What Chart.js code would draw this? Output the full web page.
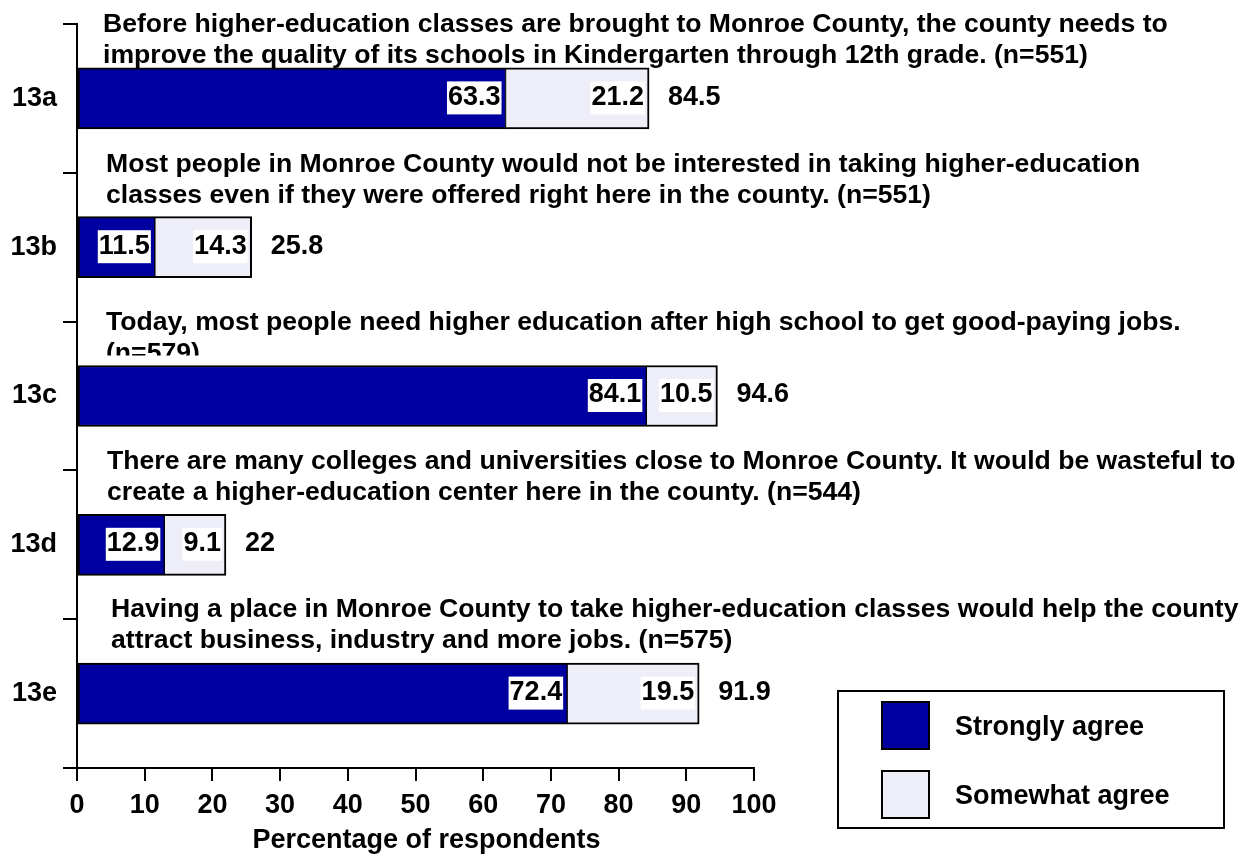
<!DOCTYPE html>
<html>
<head>
<meta charset="utf-8">
<title>Higher education in Monroe County</title>
<script src="https://cdn.jsdelivr.net/npm/chart.js@4/dist/chart.umd.min.js"></script>
<style>
  html, body { margin: 0; padding: 0; background: #fff; }
  canvas { display: block; }
</style>
</head>
<body>
<canvas id="agreeChart" width="1243" height="859"></canvas>
<script>
// survey items, top to bottom
const items = ["13a", "13b", "13c", "13d", "13e"];

const questions = [
  ["Before higher-education classes are brought to Monroe County, the county needs to",
   "improve the quality of its schools in Kindergarten through 12th grade. (n=551)"],
  ["Most people in Monroe County would not be interested in taking higher-education",
   "classes even if they were offered right here in the county. (n=551)"],
  ["Today, most people need higher education after high school to get good-paying jobs.",
   "(n=579)"],
  ["There are many colleges and universities close to Monroe County. It would be wasteful to",
   "create a higher-education center here in the county. (n=544)"],
  ["Having a place in Monroe County to take higher-education classes would help the county",
   "attract business, industry and more jobs. (n=575)"]
];

// percentages
const stronglyAgree = [63.3, 11.5, 84.1, 12.9, 72.4];
const somewhatAgree = [21.2, 14.3, 10.5, 9.1, 19.5];
const totalAgree = [84.5, 25.8, 94.6, 22, 91.9];

const xTitle = "Percentage of respondents";

const FONT = "'Liberation Sans', Arial, Helvetica, sans-serif";

// question text sits in the upper part of each band, bars drawn over it
const questionText = {
  id: "questionText",
  beforeDatasetsDraw(chart, args, opts) {
    const { ctx } = chart;
    const y = chart.scales.y;
    const band = y.getPixelForValue(1) - y.getPixelForValue(0);
    ctx.save();
    ctx.font = opts.font;
    ctx.fillStyle = "#000";
    ctx.textAlign = "left";
    ctx.textBaseline = "alphabetic";
    questions.forEach((lines, i) => {
      const top = y.getPixelForValue(i) - band / 2;
      const n = opts.nudge[i];
      ctx.save();
      if (n.clip) {
        ctx.beginPath();
        ctx.rect(0, 0, chart.width, top + n.clip);
        ctx.clip();
      }
      lines.forEach((line, k) => ctx.fillText(line, n.x, top + n.y + k * opts.lineGap));
      ctx.restore();
    });
    ctx.restore();
  }
};

// white boxed values at the end of each segment, plus the total outside
const valueLabels = {
  id: "valueLabels",
  afterDatasetsDraw(chart, args, opts) {
    const { ctx } = chart;
    ctx.save();
    ctx.font = opts.font;
    ctx.textBaseline = "middle";
    chart.data.datasets.forEach((ds, d) => {
      chart.getDatasetMeta(d).data.forEach((bar, i) => {
        const txt = String(ds.data[i]);
        const w = ctx.measureText(txt).width;
        const right = bar.x - 4;
        ctx.fillStyle = "#fff";
        ctx.fillRect(right - w - 2, bar.y - 17, w + 2, 33);
        ctx.fillStyle = "#000";
        ctx.textAlign = "right";
        ctx.fillText(txt, right - 1, bar.y - 1);
      });
    });
    const last = chart.getDatasetMeta(chart.data.datasets.length - 1).data;
    ctx.textAlign = "left";
    ctx.fillStyle = "#000";
    last.forEach((bar, i) => ctx.fillText(String(totalAgree[i]), bar.x + 19, bar.y - 1));
    ctx.restore();
  }
};

// x axis caption, a little right of the axis centre
const axisCaption = {
  id: "axisCaption",
  afterDraw(chart, args, opts) {
    const { ctx } = chart;
    const x = chart.scales.x;
    ctx.save();
    ctx.font = opts.font;
    ctx.fillStyle = "#000";
    ctx.textAlign = "center";
    ctx.textBaseline = "alphabetic";
    ctx.fillText(xTitle, (x.left + x.right) / 2 + opts.shift, x.top + opts.baseline);
    ctx.restore();
  }
};

// framed legend in the lower right
const boxLegend = {
  id: "boxLegend",
  afterDraw(chart, args, opts) {
    const { ctx } = chart;
    const b = opts.box;
    ctx.save();
    ctx.lineWidth = 2;
    ctx.strokeStyle = "#000";
    ctx.fillStyle = "#fff";
    ctx.fillRect(b.x, b.y, b.w, b.h);
    ctx.strokeRect(b.x, b.y, b.w, b.h);
    ctx.font = opts.font;
    ctx.textAlign = "left";
    ctx.textBaseline = "middle";
    chart.data.datasets.forEach((ds, i) => {
      const sx = b.x + opts.swatchLeft;
      const sy = b.y + opts.firstTop + i * opts.step;
      ctx.fillStyle = ds.backgroundColor;
      ctx.fillRect(sx, sy, opts.swatch, opts.swatch);
      ctx.strokeRect(sx, sy, opts.swatch, opts.swatch);
      ctx.fillStyle = "#000";
      ctx.fillText(ds.label, b.x + opts.textLeft, sy + opts.swatch / 2 + 2);
    });
    ctx.restore();
  }
};

const tickFont = { family: FONT, size: 27, weight: "bold" };

new Chart(document.getElementById("agreeChart"), {
  type: "bar",
  data: {
    labels: items,
    datasets: [
      {
        label: "Strongly agree",
        data: stronglyAgree,
        backgroundColor: "#0000A0",
        borderColor: "#000",
        borderWidth: { top: 2, bottom: 2, left: 2, right: 1 },
        borderSkipped: false,
        barThickness: 61
      },
      {
        label: "Somewhat agree",
        data: somewhatAgree,
        backgroundColor: "#EEEEF8",
        borderColor: "#000",
        borderWidth: { top: 2, bottom: 2, left: 1, right: 2 },
        borderSkipped: false,
        barThickness: 61
      }
    ]
  },
  options: {
    indexAxis: "y",
    responsive: false,
    animation: false,
    layout: { padding: { top: 24, right: 489, bottom: 0, left: 0 } },
    plugins: {
      legend: { display: false },
      tooltip: { enabled: false },
      questionText: {
        font: "bold 26.6px " + FONT,
        lineGap: 31,
        nudge: [
          { x: 103, y: 8 },
          { x: 106, y: -1 },
          { x: 106, y: 8, clip: 34 },
          { x: 107, y: -1 },
          { x: 111, y: -2 }
        ]
      },
      valueLabels: { font: "bold 27px " + FONT },
      axisCaption: { font: "bold 27px " + FONT, shift: 11, baseline: 80 },
      boxLegend: {
        font: "bold 27px " + FONT,
        box: { x: 838, y: 691, w: 386, h: 137 },
        swatchLeft: 44, firstTop: 11, step: 69, swatch: 47, textLeft: 117
      }
    },
    scales: {
      x: {
        stacked: true,
        min: 0,
        max: 100,
        ticks: { stepSize: 10, color: "#000", padding: 8, font: tickFont, maxRotation: 0 },
        grid: { drawOnChartArea: false, tickLength: 13, tickColor: "#000", lineWidth: 2 },
        border: { color: "#000", width: 2 },
        afterFit(scale) { scale.height = 91; }
      },
      y: {
        stacked: true,
        ticks: { color: "#000", padding: 6, font: tickFont },
        grid: { drawOnChartArea: false, offset: true, tickLength: 14, tickColor: "#000", lineWidth: 2 },
        border: { color: "#000", width: 2 },
        afterFit(scale) { scale.width = 77; }
      }
    }
  },
  plugins: [questionText, valueLabels, axisCaption, boxLegend]
});
</script>
</body>
</html>
